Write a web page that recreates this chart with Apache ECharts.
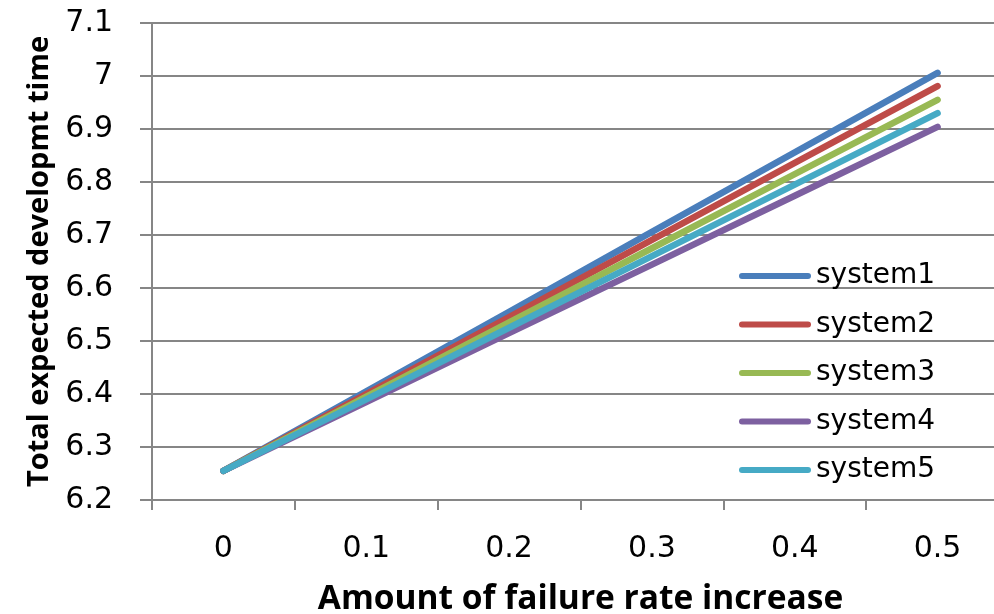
<!DOCTYPE html>
<html><head><meta charset="utf-8">
<script src="https://cdn.jsdelivr.net/npm/echarts@6/dist/echarts.min.js"></script>
<style>html,body{margin:0;padding:0;background:#fff;overflow:hidden;width:994px;height:614px}#c{width:994px;height:614px}</style>
</head><body><div id="c"></div>
<script>
const categories = ['0', '0.1', '0.2', '0.3', '0.4', '0.5'];
const seriesNames = ['system1', 'system2', 'system3', 'system4', 'system5'];
const system1 = [6.255, 6.405, 6.555, 6.706, 6.856, 7.006];
const system2 = [6.255, 6.400, 6.545, 6.691, 6.836, 6.981];
const system3 = [6.255, 6.395, 6.535, 6.675, 6.815, 6.955];
const system4 = [6.255, 6.385, 6.515, 6.644, 6.774, 6.904];
const system5 = [6.255, 6.390, 6.525, 6.660, 6.795, 6.930];
const seriesData = [system1, system2, system3, system4, system5];
const colors = ['#4A7EBB', '#BE4B48', '#98B954', '#7D60A0', '#46AAC5'];
const yMin = 6.2, yMax = 7.1, yStep = 0.1;

const chart = echarts.init(document.getElementById('c'), null, {renderer: 'canvas'});
const gridColor = '#868686';
const capsule = 'path://M3,0L69,0A3,3,0,0,1,69,6L3,6A3,3,0,0,1,3,0Z';
chart.setOption({
  animation: false,
  color: colors,
  grid: {left: 152, top: 23, width: 857, height: 477, containLabel: false, outerBoundsMode: 'none'},
  legend: {
    show: true,
    orient: 'vertical', left: 734, top: 257,
    itemWidth: 72, itemHeight: 6, itemGap: 20.5,
    icon: capsule,
    data: seriesNames,
    textStyle: {fontFamily: 'DejaVu Sans', fontSize: 28, color: '#000'}
  },
  xAxis: {
    type: 'category', data: categories, boundaryGap: true,
    name: 'Amount of failure rate increase', nameLocation: 'middle', nameGap: 82,
    nameTextStyle: {fontFamily: 'Open Sans', fontWeight: 'bold', fontSize: 33.5, color: '#000'},
    axisLine: {lineStyle: {color: gridColor, width: 2}},
    axisTick: {show: true, length: 10, lineStyle: {color: gridColor, width: 2}, alignWithLabel: false},
    axisLabel: {fontFamily: 'DejaVu Sans', fontSize: 30, color: '#000', margin: 34},
    splitLine: {show: false}
  },
  yAxis: {
    type: 'value', min: yMin, max: yMax, interval: yStep,
    name: 'Total expected developmt time', nameLocation: 'middle', nameGap: 98, nameRotate: 90,
    nameTextStyle: {fontFamily: 'Open Sans', fontWeight: 'bold', fontSize: 29, color: '#000'},
    axisLine: {show: true, lineStyle: {color: gridColor, width: 2}},
    axisTick: {show: true, length: 12, lineStyle: {color: gridColor, width: 2}},
    axisLabel: {fontFamily: 'DejaVu Sans', fontSize: 30, color: '#000', margin: 39,
      formatter: v => String(Math.round(v * 10) / 10)},
    splitLine: {show: true, lineStyle: {color: gridColor, width: 2}}
  },
  series: seriesNames.map((n, i) => ({
    name: n, type: 'line', data: seriesData[i],
    showSymbol: false, symbol: 'none',
    lineStyle: {width: 6.5, color: colors[i], cap: 'round', join: 'round'},
    itemStyle: {color: colors[i]}
  }))
});
</script></body></html>
